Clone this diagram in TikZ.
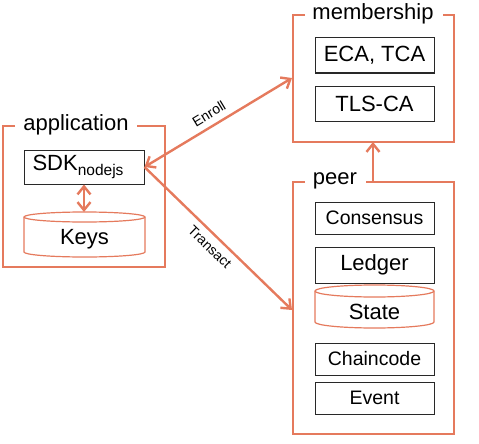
\documentclass[tikz,border=0pt]{standalone}
\usepackage{fontspec}
\setmainfont{Liberation Sans}
\usetikzlibrary{arrows.meta}
\definecolor{org}{RGB}{229,122,93}
\definecolor{boxline}{RGB}{40,40,40}
\tikzset{
  grp/.style={draw=org, line width=1.5pt},
  title/.style={font=\fontsize{22}{26}\selectfont, inner sep=0pt},
  comp/.style={draw=boxline, line width=1pt, fill=white, minimum width=119pt, inner sep=0pt, font=\fontsize{22}{26}\selectfont},
  smallcomp/.style={comp, font=\fontsize{19.5}{23}\selectfont},
  conn/.style={draw=org, line width=2.4pt},
  tip/.tip={Straight Barb[length=8pt,width=13pt]},
  lbl/.style={font=\fontsize{14}{16}\selectfont, sloped, inner sep=0pt},
  cyl/.style={draw=org, line width=1.2pt, fill=white}
}
\begin{document}
\begin{tikzpicture}[x=1pt,y=-1pt]
\useasboundingbox (0,0) rectangle (479,444);

% application group
\draw[grp] (15,126) -- (3,126) -- (3,267) -- (165,267) -- (165,126) -- (137,126);
\node[title] (apptitle) at (76,125) {application};
\node[comp, minimum width=120pt, minimum height=34pt] (sdk) at (84,167) {SDK\raisebox{-0.45ex}{\fontsize{15.5}{17}\selectfont nodejs}\hspace*{12pt}};
% Keys cylinder
\draw[cyl] (24,217) -- (24,252) arc[start angle=180, end angle=360, x radius=60.5pt, y radius=5pt] -- (145,217) arc[start angle=0, end angle=180, x radius=60.5pt, y radius=5pt] -- cycle;
\draw[cyl, fill=none] (24,217) arc[start angle=180, end angle=360, x radius=60.5pt, y radius=5pt];
\node[title] (keys) at (84.5,239) {Keys};
\coordinate (keystop) at (84,212);

% membership group
\draw[grp] (305,15) -- (293,15) -- (293,142) -- (454,142) -- (454,15) -- (443,15);
\node[title] (memtitle) at (373,14) {membership};
\node[comp, minimum height=35pt] (eca) at (374.5,55.5) {ECA, TCA};
\node[comp, minimum height=35pt] (tls) at (374.5,103.5) {TLS-CA};
\coordinate (memL) at (292,78);
\coordinate (memB) at (373,142);

% peer group
\draw[grp] (305,182) -- (293,182) -- (293,434) -- (454,434) -- (454,182) -- (366,182);
\node[title] (peertitle) at (335,181) {peer};
\node[smallcomp, minimum height=32pt] (cons) at (374.5,218) {Consensus};
\node[comp, minimum height=36pt] (ledger) at (374.5,265) {Ledger};
% State cylinder
\draw[cyl] (315,291) -- (315,322) arc[start angle=180, end angle=360, x radius=59.5pt, y radius=6pt] -- (434,291) arc[start angle=0, end angle=180, x radius=59.5pt, y radius=6pt] -- cycle;
\draw[cyl, fill=none] (315,291) arc[start angle=180, end angle=360, x radius=59.5pt, y radius=6pt];
\node[title] (state) at (374.5,312) {State};
\node[smallcomp, minimum height=32pt] (chain) at (374.5,359) {Chaincode};
\node[smallcomp, minimum height=32pt] (event) at (374.5,398) {Event};
\coordinate (peerL) at (292,310);
\coordinate (peerT) at (373,182);

% connectors
\draw[conn, {tip}-{tip}] (sdk.east) -- node[lbl, above=6pt, pos=0.48] {Enroll} (memL);
\draw[conn, -{tip}] (sdk.east) -- node[lbl, below=6pt, pos=0.5] {Transact} (peerL);
\draw[conn, -{tip}] (peerT) -- (memB);
\draw[conn, {tip}-{tip}] (sdk.south) -- (keystop);
\end{tikzpicture}
\end{document}
